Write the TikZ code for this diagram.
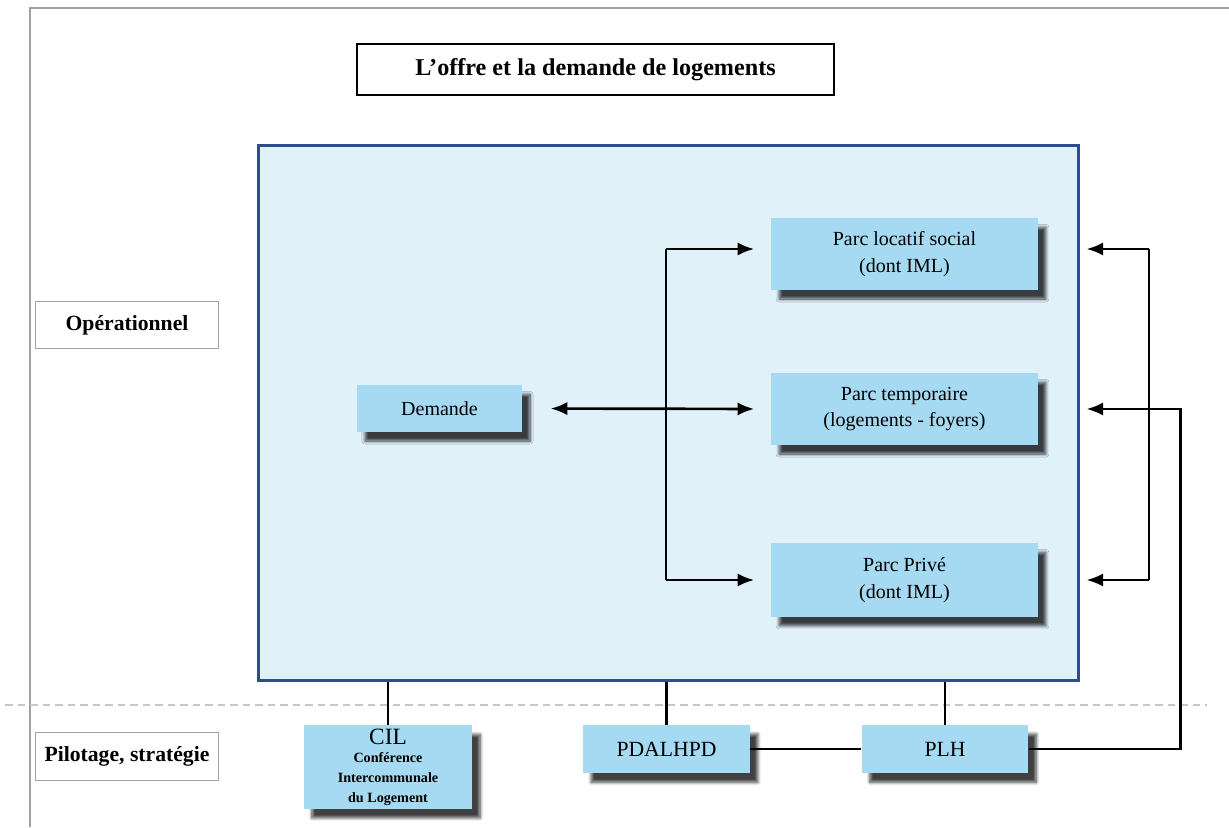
\documentclass[tikz,border=0pt]{standalone}
\usepackage{fontspec}
\setmainfont{Liberation Serif}
\usetikzlibrary{arrows.meta, shadows.blur, calc}

\definecolor{zonefill}{RGB}{225,241,250}
\definecolor{zoneline}{RGB}{45,78,142}
\definecolor{boxfill}{RGB}{166,217,242}
\definecolor{frameline}{RGB}{160,160,160}

\tikzset{
    parcbox/.style={fill=boxfill, align=center, inner sep=2pt,
        blur shadow={shadow xshift=4.8pt, shadow yshift=-5.5pt, shadow blur steps=8, shadow opacity=75}},
    levelbox/.style={draw=frameline, line width=0.8pt, fill=white, minimum width=110pt, minimum height=28.5pt,
        font=\fontsize{13}{15}\selectfont\bfseries},
    link/.style={line width=1.6pt, black},
    arrow/.style={link, -{Latex[length=10pt, width=8pt]}},
}

\begin{document}
\begin{tikzpicture}[x=0.6pt, y=-0.6pt]
    % Fix the size of the page
    \useasboundingbox (0,0) rectangle (1229,827);

    % Frame of the page
    \draw[frameline, line width=1pt] (30,827) -- (30,8) -- (1229,8);

    % Separation between the two levels
    \draw[gray!45, line width=1.3pt, dash pattern=on 4.5pt off 3pt] (5,705) -- (1207,705);

    % Title
    \node[draw, line width=1.5pt, minimum width=286pt, minimum height=30.5pt,
        font=\fontsize{14.5}{16}\selectfont\bfseries] (title) at (595.5,69.5) {L’offre et la demande de logements};

    % Levels
    \node[levelbox] (oper) at (127,325) {Opérationnel};
    \node[levelbox] (pilot) at (127,756.5) {Pilotage, stratégie};

    % Operational zone
    \node[draw=zoneline, fill=zonefill, line width=1.8pt, minimum width=492pt, minimum height=321pt] (zone) at (668,412.5) {};

    % Housing stock
    \node[parcbox, minimum width=160pt, minimum height=43pt, font=\fontsize{12}{16}\selectfont] (locatif) at (904.5,254) {Parc locatif social\\(dont IML)};
    \node[parcbox, minimum width=160pt, minimum height=43pt, font=\fontsize{12}{16}\selectfont] (temporaire) at (904.5,409) {Parc temporaire\\(logements - foyers)};
    \node[parcbox, minimum width=160pt, minimum height=44pt, font=\fontsize{12}{16}\selectfont] (prive) at (904.5,580) {Parc Privé\\(dont IML)};

    % Demand
    \node[parcbox, minimum width=99pt, minimum height=28pt, font=\fontsize{12}{14}\selectfont] (demande) at (439.5,408.5) {Demande};

    % Steering
    \node[parcbox, minimum width=101pt, minimum height=50pt] (cil) at (388,767)
        {{\fontsize{14}{12}\selectfont CIL}\\[-1pt]
         {\fontsize{8.5}{11}\selectfont\bfseries Conférence}\\
         {\fontsize{8.5}{11}\selectfont\bfseries Intercommunale}\\
         {\fontsize{8.5}{11}\selectfont\bfseries du Logement}};
    \node[parcbox, minimum width=100pt, minimum height=29pt, font=\fontsize{13}{14}\selectfont] (pdalhpd) at (666.5,749) {PDALHPD};
    \node[parcbox, minimum width=100pt, minimum height=29pt, font=\fontsize{13}{14}\selectfont] (plh) at (945,749) {PLH};

    % Demand towards the housing stock
    \coordinate (fork) at (666,409);
    \draw[link, {Latex[length=10pt, width=8pt]}-{Latex[length=10pt, width=8pt]}, shorten <=17pt, shorten >=10pt] (demande.east) -- (temporaire.west);
    \draw[link] ([yshift=3pt]fork |- locatif.west) -- (fork |- prive.west);
    \draw[arrow, shorten >=10pt] ([yshift=3pt]fork |- locatif.west) -- ([yshift=3pt]locatif.west);
    \draw[arrow, shorten >=10pt] (fork |- prive.west) -- (prive.west);

    % Return from the steering level
    \coordinate (back) at (1149,409);
    \draw[link] ([yshift=3pt]back |- locatif.east) -- (back |- prive.east);
    \draw[arrow, shorten >=29pt] ([yshift=3pt]back |- locatif.east) -- ([yshift=3pt]locatif.east);
    \draw[arrow, shorten >=29pt] (back |- prive.east) -- (prive.east);
    \draw[arrow, shorten >=29pt] (plh.east) -- ++(152,0) |- (temporaire.east);

    % Links between the two levels
    \draw[link] (cil.north) -- (cil.north |- zone.south);
    \draw[link] (pdalhpd.north) -- (pdalhpd.north |- zone.south);
    \draw[link] (plh.north) -- (plh.north |- zone.south);
    \draw[link] (pdalhpd.east) -- (plh.west);
\end{tikzpicture}
\end{document}
